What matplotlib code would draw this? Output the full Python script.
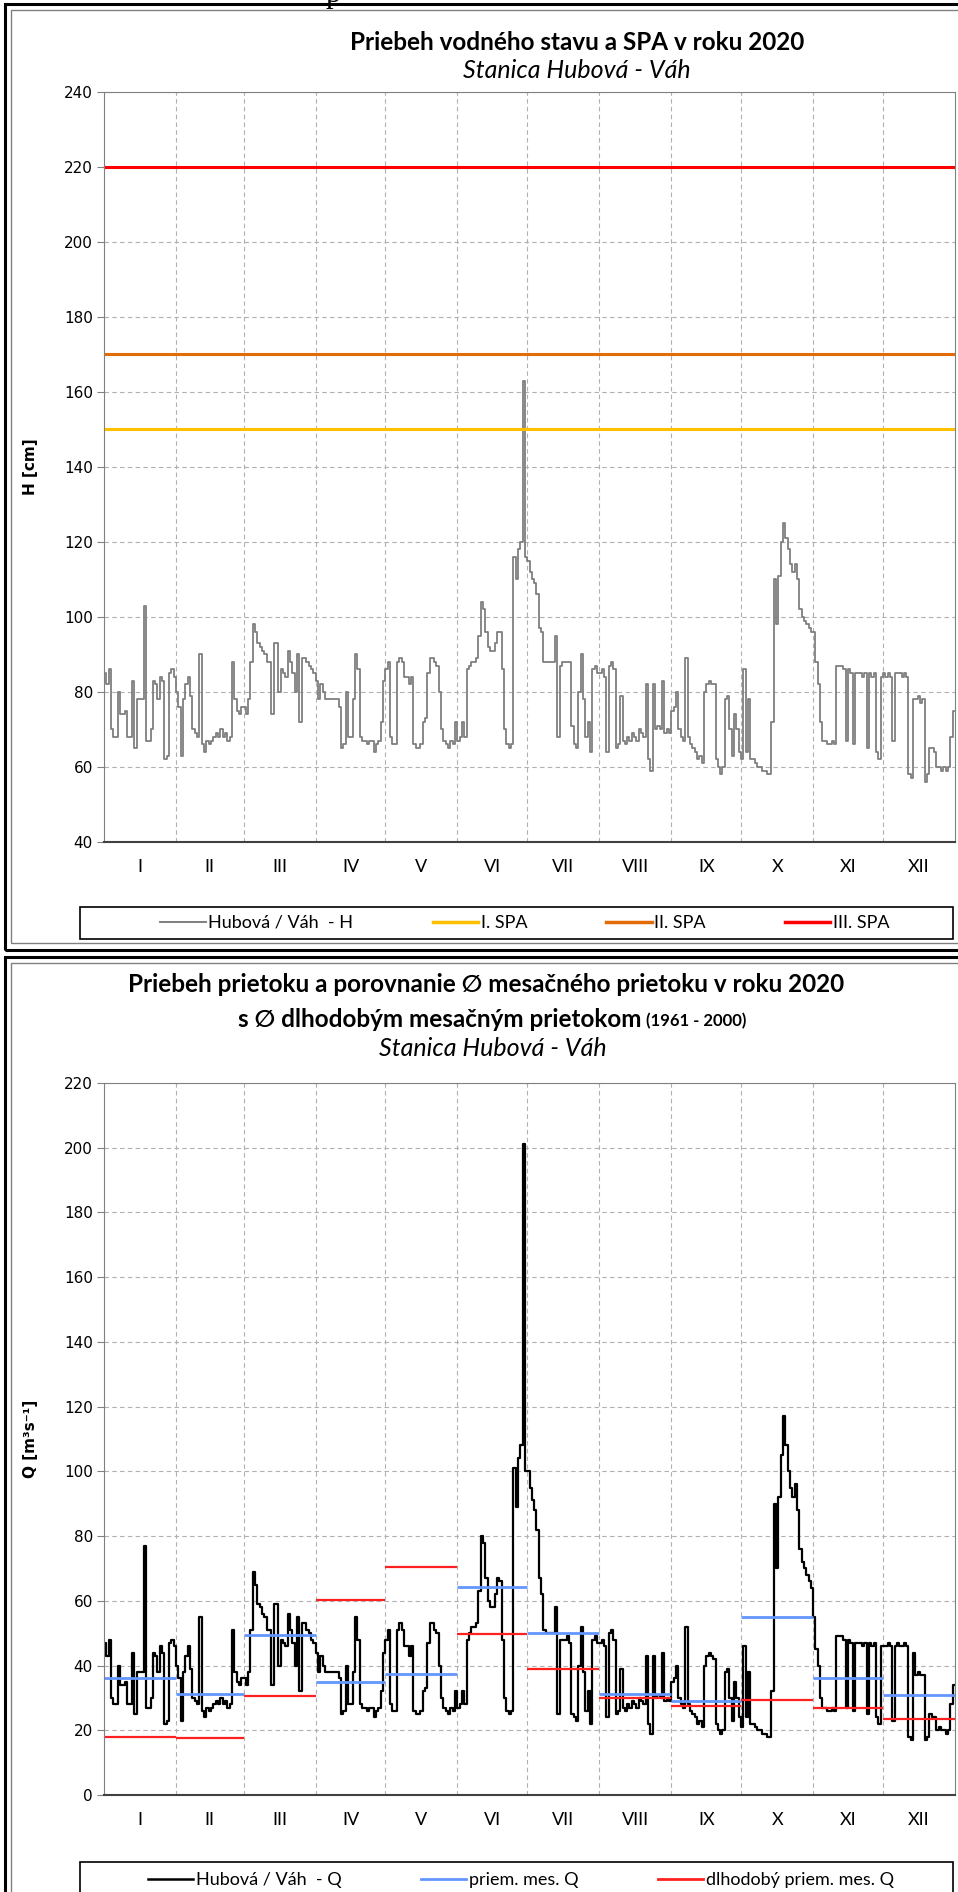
import numpy as np
import matplotlib.pyplot as plt
from matplotlib.patches import Rectangle
from matplotlib.lines import Line2D

# months and days (2020 is a leap year)
months = ['I', 'II', 'III', 'IV', 'V', 'VI', 'VII', 'VIII', 'IX', 'X', 'XI', 'XII']
days_in_month = [31, 29, 31, 30, 31, 30, 31, 31, 30, 31, 30, 31]

# daily water level H [cm]
h_jan = [85, 82, 86, 70, 68, 68, 80, 74, 74, 75, 68, 68, 83, 65, 78, 78, 78, 103, 67, 67, 70, 83, 82, 78, 84, 83, 62, 63, 85, 86, 84]
h_feb = [80, 76, 63, 78, 82, 84, 79, 70, 69, 68, 90, 66, 64, 67, 66, 67, 68, 69, 68, 70, 68, 69, 67, 68, 88, 78, 75, 74, 76]
h_mar = [76, 74, 78, 88, 98, 96, 93, 92, 91, 90, 88, 88, 74, 93, 93, 80, 86, 85, 84, 91, 88, 85, 80, 90, 72, 89, 89, 88, 87, 86, 85]
h_apr = [83, 78, 82, 80, 78, 78, 78, 78, 78, 78, 76, 65, 66, 80, 68, 68, 78, 90, 86, 68, 67, 67, 66, 67, 67, 64, 66, 67, 72, 83]
h_may = [86, 88, 68, 66, 66, 88, 89, 88, 84, 84, 82, 84, 66, 65, 65, 66, 72, 73, 85, 89, 89, 88, 87, 80, 70, 67, 66, 65, 67, 66, 72]
h_jun = [67, 68, 72, 68, 86, 87, 88, 88, 89, 95, 104, 102, 96, 92, 91, 91, 93, 96, 96, 86, 70, 66, 65, 66, 116, 110, 118, 120, 163, 116]
h_jul = [115, 112, 110, 109, 106, 97, 96, 88, 88, 88, 88, 88, 95, 68, 87, 88, 88, 88, 88, 71, 66, 65, 80, 90, 78, 68, 72, 64, 86, 87, 85]
h_aug = [85, 86, 84, 64, 87, 88, 86, 65, 66, 79, 67, 66, 68, 67, 69, 68, 67, 70, 69, 68, 82, 62, 59, 82, 70, 71, 70, 83, 69, 70, 69]
h_sep = [75, 76, 80, 70, 68, 67, 89, 68, 66, 65, 64, 62, 63, 61, 80, 82, 83, 82, 82, 62, 60, 58, 60, 78, 79, 70, 63, 74, 70, 64]
h_oct = [62, 86, 64, 78, 62, 62, 61, 60, 60, 59, 59, 58, 58, 72, 110, 98, 111, 120, 125, 121, 118, 114, 112, 114, 110, 102, 100, 99, 98, 97, 96]
h_nov = [96, 88, 82, 72, 67, 67, 66, 66, 67, 66, 87, 87, 87, 86, 67, 86, 85, 66, 85, 85, 85, 84, 85, 65, 85, 84, 85, 64, 62, 84]
h_dec = [85, 84, 85, 84, 67, 85, 85, 85, 84, 85, 84, 58, 57, 78, 78, 79, 77, 78, 56, 58, 65, 65, 64, 60, 60, 59, 60, 59, 60, 68, 75]

# daily discharge Q [m3/s]
q_jan = [47, 43, 48, 30, 28, 28, 40, 34, 34, 35, 28, 28, 44, 25, 38, 38, 38, 77, 27, 27, 30, 44, 43, 38, 46, 44, 22, 23, 47, 48, 46]
q_feb = [40, 36, 23, 38, 43, 46, 39, 30, 29, 28, 55, 26, 24, 27, 26, 27, 28, 29, 28, 30, 28, 29, 27, 28, 51, 38, 35, 34, 36]
q_mar = [36, 34, 38, 51, 69, 65, 59, 58, 56, 55, 51, 51, 34, 59, 59, 40, 48, 47, 46, 56, 51, 47, 40, 55, 32, 53, 53, 51, 50, 48, 47]
q_apr = [44, 38, 43, 40, 38, 38, 38, 38, 38, 38, 36, 25, 26, 40, 28, 28, 38, 55, 48, 28, 27, 27, 26, 27, 27, 24, 26, 27, 32, 44]
q_may = [48, 51, 28, 26, 26, 51, 53, 51, 46, 46, 43, 46, 26, 25, 25, 26, 32, 33, 47, 53, 53, 51, 50, 40, 30, 27, 26, 25, 27, 26, 32]
q_jun = [27, 28, 32, 28, 48, 50, 52, 52, 53, 63, 80, 78, 67, 60, 58, 58, 62, 67, 66, 48, 30, 26, 25, 26, 101, 89, 104, 108, 201, 100]
q_jul = [100, 95, 91, 88, 82, 67, 62, 51, 50, 50, 50, 50, 58, 25, 48, 48, 48, 49, 47, 25, 24, 23, 40, 52, 38, 26, 32, 22, 48, 49, 47]
q_aug = [47, 48, 46, 24, 50, 51, 48, 25, 26, 39, 27, 26, 28, 27, 29, 28, 27, 30, 29, 28, 43, 22, 19, 43, 30, 31, 30, 44, 29, 30, 29]
q_sep = [35, 36, 40, 30, 28, 27, 52, 28, 26, 25, 24, 22, 23, 21, 40, 43, 44, 43, 42, 22, 20, 19, 20, 38, 39, 30, 23, 35, 30, 24]
q_oct = [21, 46, 24, 38, 22, 22, 21, 20, 20, 19, 19, 18, 18, 32, 90, 70, 92, 105, 117, 108, 100, 95, 92, 96, 88, 76, 72, 70, 68, 66, 64]
q_nov = [55, 45, 40, 30, 27, 27, 26, 26, 27, 26, 49, 49, 49, 48, 27, 48, 47, 26, 47, 47, 47, 46, 47, 25, 47, 46, 47, 24, 22, 46]
q_dec = [46, 46, 47, 46, 23, 46, 47, 46, 46, 47, 46, 18, 17, 44, 37, 38, 37, 37, 17, 18, 25, 24, 24, 20, 21, 20, 20, 19, 20, 28, 34]

# flood activity levels (SPA) [cm]
spa_levels = [150, 170, 220]
spa_names = ['I. SPA', 'II. SPA', 'III. SPA']
spa_colors = ['#FFC000', '#E36C09', '#FF0000']

# monthly mean Q 2020 and long-term monthly mean Q (1961 - 2000)
q_month_mean = [36.3, 31.2, 49.5, 35.0, 37.4, 64.2, 50.0, 31.1, 28.9, 55.0, 36.3, 31.0]
q_longterm = [18.0, 17.7, 30.6, 60.3, 70.6, 49.8, 38.9, 30.1, 27.5, 29.3, 27.0, 23.4]

h = np.concatenate([h_jan, h_feb, h_mar, h_apr, h_may, h_jun, h_jul, h_aug, h_sep, h_oct, h_nov, h_dec])
q = np.concatenate([q_jan, q_feb, q_mar, q_apr, q_may, q_jun, q_jul, q_aug, q_sep, q_oct, q_nov, q_dec])
days = np.arange(len(h)) + 0.5
bounds = np.concatenate([[0], np.cumsum(days_in_month)])
centers = (bounds[:-1] + bounds[1:]) / 2

NARROW = ['Lato', 'DejaVu Sans']
W, HH = 958, 1892


def fx(px):
    return px / W


def fy(py):
    return 1 - py / HH


def frame(x0, y0, x1, y1, **kw):
    fig.patches.append(Rectangle((fx(x0), fy(y1)), fx(x1) - fx(x0), fy(y0) - fy(y1),
                                 transform=fig.transFigure, fill=False, **kw))


fig = plt.figure(figsize=(W / 100, HH / 100), dpi=100)

# bit of the document text above the charts, cut off at the top edge
fig.text(fx(333), fy(-6), 'p', ha='center', va='center', family='Liberation Serif', fontsize=22)

# panel frames
for top, bottom in [(4, 950), (957, 1900)]:
    frame(5, top, 990, bottom, ec='black', lw=2.2)
    frame(11, top + 6, 990, bottom - 7, ec='#808080', lw=1)


def style_axes(ax, ymax, ymin=0):
    ax.set_xlim(0, bounds[-1])
    ax.set_ylim(ymin, ymax)
    ax.set_yticks(np.arange(ymin, ymax + 1, 20))
    ax.set_xticks(bounds[1:-1])
    ax.set_xticklabels([])
    ax.set_xticks(centers, minor=True)
    ax.set_xticklabels(months, minor=True, family=NARROW, fontsize=13)
    ax.tick_params(axis='x', which='both', length=0, pad=12)
    ax.tick_params(axis='y', length=5, color='#808080', labelsize=11, pad=3)
    ax.grid(True, which='major', color='#B0B0B0', lw=0.8, ls=(0, (4, 3)))
    for s in ['left', 'right', 'top']:
        ax.spines[s].set_color('#808080')
    ax.spines['bottom'].set_color('#404040')
    ax.spines['bottom'].set_linewidth(1.5)
    ax.yaxis.set_label_coords(-0.078, 0.5)


def legend_box(handles, labels, cx, cy, x0, y0, x1, y1):
    fig.legend(handles, labels, loc='center', ncol=len(labels),
               bbox_to_anchor=(fx(cx), fy(cy)), frameon=False,
               prop={'family': NARROW, 'size': 13}, handlelength=2.5,
               handletextpad=0.15, columnspacing=4.4)
    frame(x0, y0, x1, y1, ec='black', lw=1.2)


# water level chart
ax1 = fig.add_axes([fx(104), fy(842), fx(955) - fx(104), fy(92) - fy(842)])
ax1.plot(days, h, color='#7F7F7F', lw=1.3, drawstyle='steps-mid')
for lev, col in zip(spa_levels, spa_colors):
    ax1.axhline(lev, color=col, lw=2.2)
style_axes(ax1, 240, 40)
ax1.set_ylabel('H [cm]', fontweight='bold', fontsize=11)

fig.text(fx(577), fy(42), 'Priebeh vodného stavu a SPA v roku 2020', ha='center', va='center',
         family=NARROW, fontsize=17.5, fontweight='bold')
fig.text(fx(577), fy(70), 'Stanica Hubová - Váh', ha='center', va='center',
         family=NARROW, fontsize=18, style='italic')

handles1 = [Line2D([], [], color='#7F7F7F', lw=1.4)] + [Line2D([], [], color=c, lw=2.5) for c in spa_colors]
labels1 = ['Hubová / Váh  - H'] + spa_names
legend_box(handles1, labels1, 525, 923, 80, 907, 953, 939)

# discharge chart
ax2 = fig.add_axes([fx(104), fy(1795), fx(955) - fx(104), fy(1083) - fy(1795)])
ax2.plot(days, q, color='black', lw=1.6, drawstyle='steps-mid')
for i in range(12):
    ax2.hlines(q_month_mean[i], bounds[i], bounds[i + 1], color='#6495FF', lw=2)
    ax2.hlines(q_longterm[i], bounds[i], bounds[i + 1], color='#FF2020', lw=1.6)
style_axes(ax2, 220, 0)
ax2.set_ylabel('Q [m³s⁻¹]', fontweight='bold', fontsize=11, family=['DejaVu Sans'])

fig.text(fx(486), fy(985), 'Priebeh prietoku a porovnanie ∅ mesačného prietoku v roku 2020',
         ha='center', va='center', family=NARROW, fontsize=17.5, fontweight='bold')
fig.text(fx(641), fy(1019), 's ∅ dlhodobým mesačným prietokom', ha='right', va='center',
         family=NARROW, fontsize=17.5, fontweight='bold')
fig.text(fx(646), fy(1021), '(1961 - 2000)', ha='left', va='center',
         family=NARROW, fontsize=12, fontweight='bold')
fig.text(fx(493), fy(1049), 'Stanica Hubová - Váh', ha='center', va='center',
         family=NARROW, fontsize=18, style='italic')

handles2 = [Line2D([], [], color='black', lw=1.8), Line2D([], [], color='#6495FF', lw=2),
            Line2D([], [], color='#FF2020', lw=2)]
labels2 = ['Hubová / Váh  - Q', 'priem. mes. Q', 'dlhodobý priem. mes. Q']
legend_box(handles2, labels2, 521, 1880, 80, 1862, 953, 1905)

fig.savefig('out.png', dpi=100)
